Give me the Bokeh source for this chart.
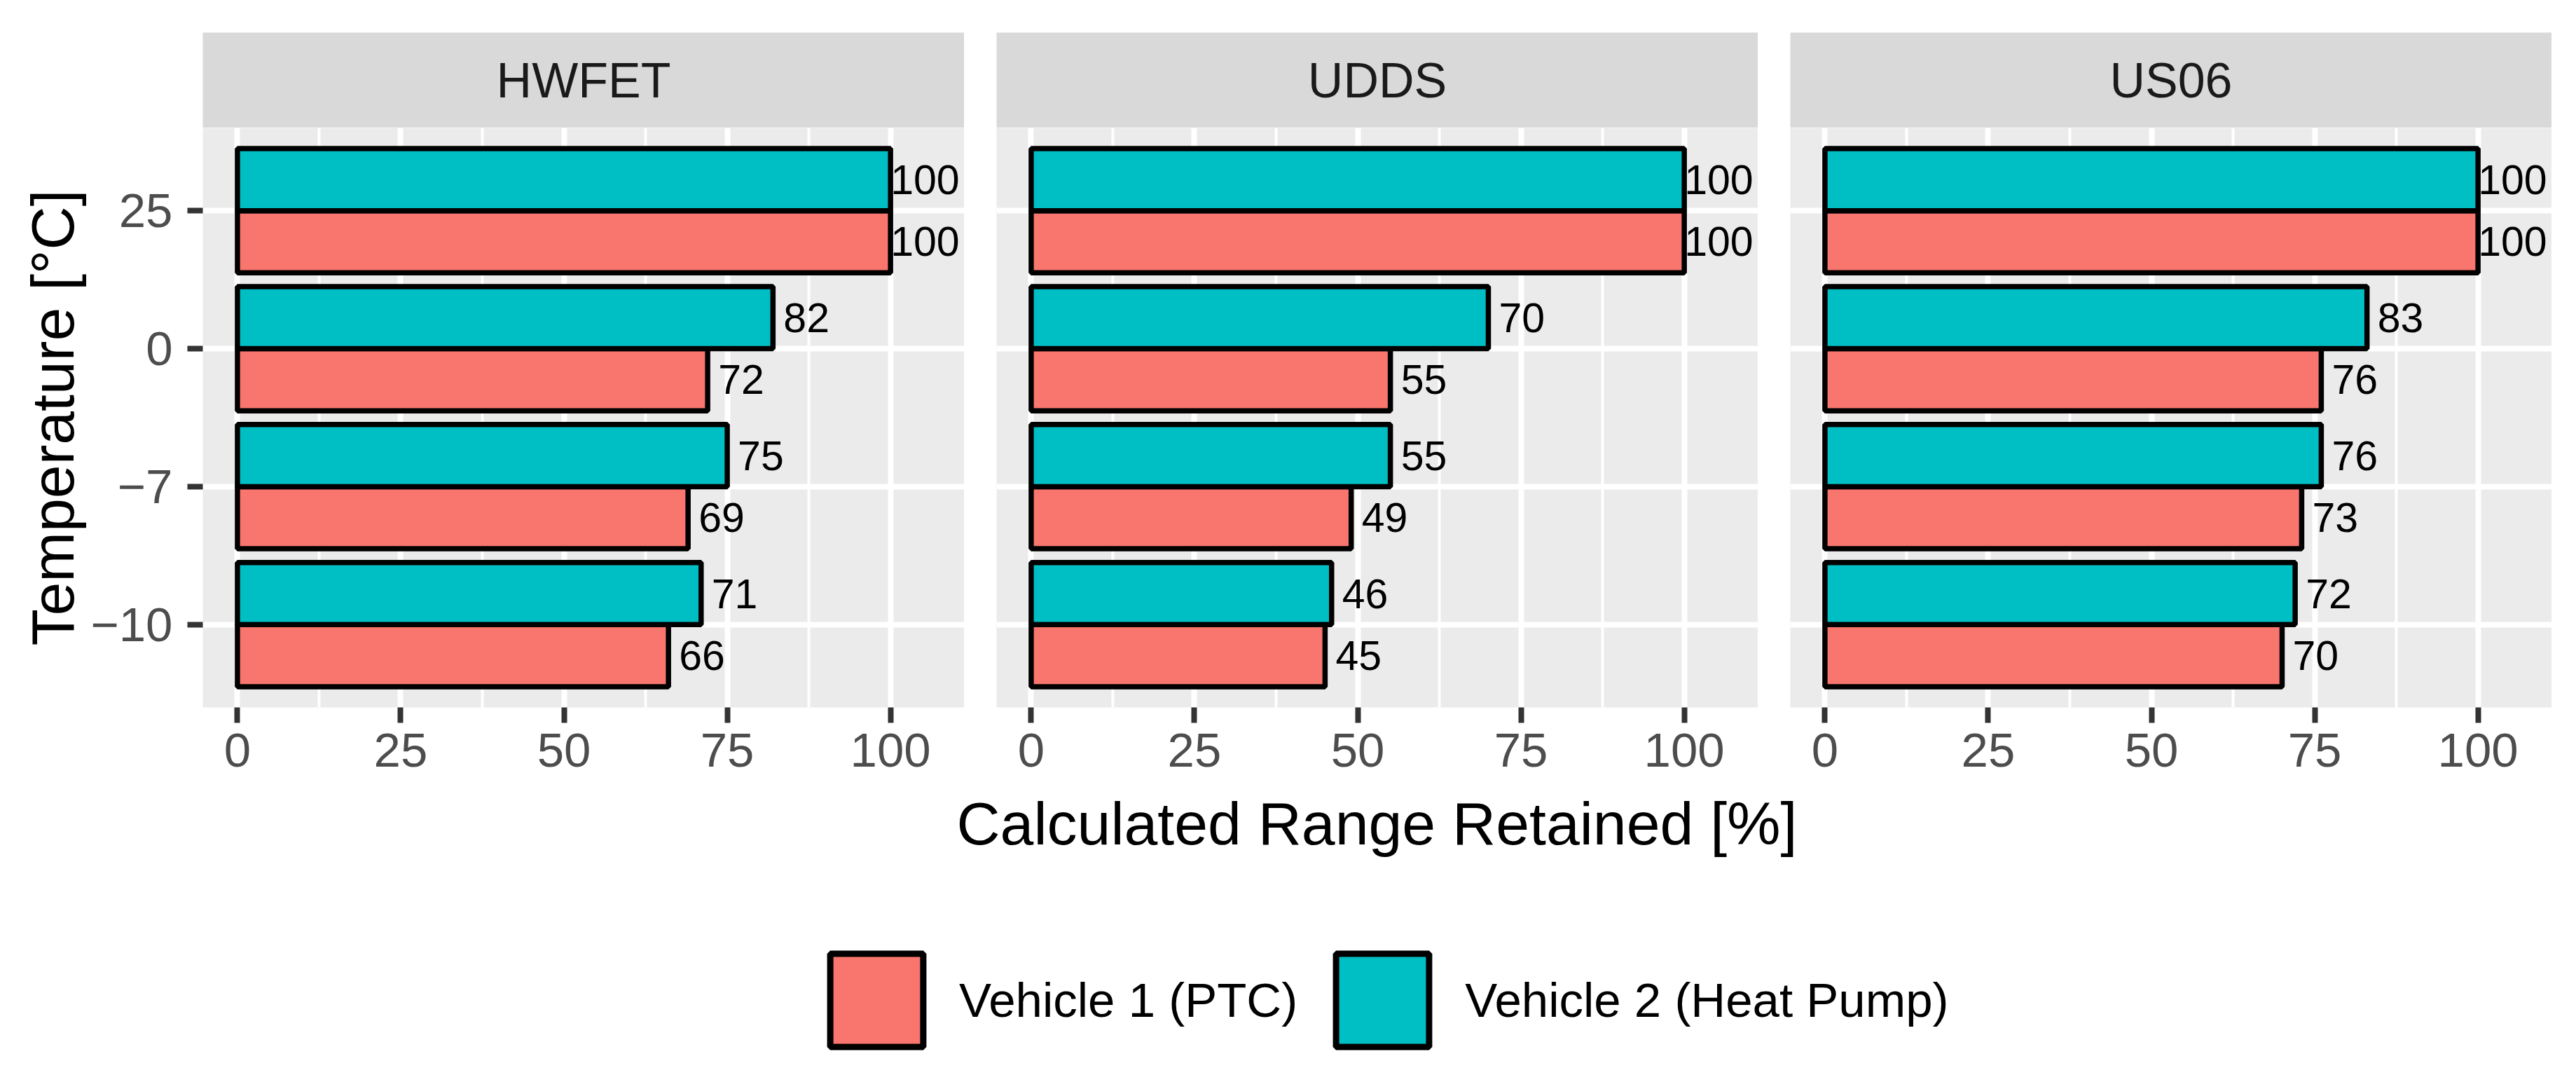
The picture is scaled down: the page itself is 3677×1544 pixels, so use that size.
from bokeh.plotting import figure
from bokeh.models import Range1d, FactorRange, FixedTicker, ColumnDataSource, Legend, LegendItem
from bokeh.layouts import column, row
from bokeh.transform import dodge
from bokeh.embed import file_html
from bokeh.resources import INLINE
from bokeh.core.properties import value

# ---------------- data ----------------
cycles = ["HWFET", "UDDS", "US06"]
temperatures = ["\u221210", "\u22127", "0", "25"]          # bottom -> top
series_names = ["Vehicle 1 (PTC)", "Vehicle 2 (Heat Pump)"]

hwfet_vehicle1 = [66, 69, 72, 100]
hwfet_vehicle2 = [71, 75, 82, 100]
udds_vehicle1 = [45, 49, 55, 100]
udds_vehicle2 = [46, 55, 70, 100]
us06_vehicle1 = [70, 73, 76, 100]
us06_vehicle2 = [72, 76, 83, 100]

x_ticks = [0, 25, 50, 75, 100]
x_minor_ticks = [12.5, 37.5, 62.5, 87.5]
x_title = "Calculated Range Retained [%]"
y_title = "Temperature [\u00b0C]"

# ---------------- style ----------------
FONT = "Liberation Sans"
C1 = "#F8766D"
C2 = "#00BFC4"
PANEL_BG = "#EBEBEB"
STRIP_BG = "#D9D9D9"
X_LO, X_HI = -5.3, 111.3
FRAME_W, FRAME_H = 1087, 827
STRIP_H = 136
STRIP_TOP = 46
LEFT0 = 289
GAP = 46
BOTTOM = 114
TICK_FS = "69px"
TITLE_FS = "86px"


def label_offsets(vals):
    return [0 if v >= 100 else 15 for v in vals]


def make_strip(i, name):
    s = figure(x_range=Range1d(0, 1), y_range=Range1d(0, 1),
               frame_width=FRAME_W, frame_height=STRIP_H,
               min_border_left=LEFT0 if i == 0 else GAP, min_border_right=0,
               min_border_top=STRIP_TOP, min_border_bottom=0,
               x_axis_location=None, y_axis_location=None,
               background_fill_color=STRIP_BG, border_fill_color="white",
               outline_line_color=None, toolbar_location=None, output_backend="svg")
    s.grid.visible = False
    s.text(x=[0.5], y=[0.5], text=[name], text_align="center", text_baseline="middle",
           text_font=value(FONT), text_font_size="70px", text_color="#1A1A1A")
    return s


def make_panel(i, v1, v2):
    yr = FactorRange(factors=temperatures, range_padding=0.1, range_padding_units="absolute")
    p = figure(x_range=Range1d(X_LO, X_HI), y_range=yr,
               frame_width=FRAME_W, frame_height=FRAME_H,
               min_border_left=LEFT0 if i == 0 else GAP, min_border_right=0,
               min_border_top=0, min_border_bottom=BOTTOM,
               y_axis_location="left" if i == 0 else None,
               background_fill_color=PANEL_BG, border_fill_color="white",
               outline_line_color=None, toolbar_location=None, output_backend="svg")

    src = ColumnDataSource(dict(temp=temperatures, v1=v1, v2=v2,
                                lab1=[str(v) for v in v1], lab2=[str(v) for v in v2],
                                off1=label_offsets(v1), off2=label_offsets(v2)))

    # x axis
    p.xaxis.ticker = FixedTicker(ticks=x_ticks, minor_ticks=x_minor_ticks)
    p.xaxis.axis_line_color = None
    p.xaxis.major_tick_in = 0
    p.xaxis.major_tick_out = 22
    p.xaxis.major_tick_line_width = 8
    p.xaxis.major_tick_line_color = "#333333"
    p.xaxis.minor_tick_line_color = None
    p.xaxis.major_label_text_font = FONT
    p.xaxis.major_label_text_font_size = TICK_FS
    p.xaxis.major_label_text_color = "#4D4D4D"
    p.xaxis.major_label_standoff = 15

    if i == 0:
        p.yaxis.axis_line_color = None
        p.yaxis.major_tick_in = 0
        p.yaxis.major_tick_out = 22
        p.yaxis.major_tick_line_width = 8
        p.yaxis.major_tick_line_color = "#333333"
        p.yaxis.major_label_text_font = FONT
        p.yaxis.major_label_text_font_size = TICK_FS
        p.yaxis.major_label_text_color = "#4D4D4D"
        p.yaxis.major_label_standoff = 21
        p.yaxis.axis_label = y_title
        p.yaxis.axis_label_text_font = FONT
        p.yaxis.axis_label_text_font_size = TITLE_FS
        p.yaxis.axis_label_text_font_style = "normal"
        p.yaxis.axis_label_text_color = "black"
        p.yaxis.axis_label_standoff = 3

    # grid
    p.xgrid.grid_line_color = "white"
    p.xgrid.grid_line_width = 8
    p.xgrid.minor_grid_line_color = "white"
    p.xgrid.minor_grid_line_width = 4
    p.ygrid.grid_line_color = "white"
    p.ygrid.grid_line_width = 8

    # bars
    p.hbar(y=dodge("temp", -0.225, range=p.y_range), left=0, right="v1", height=0.45,
           source=src, fill_color=C1, line_color="black", line_width=7.5)
    p.hbar(y=dodge("temp", 0.225, range=p.y_range), left=0, right="v2", height=0.45,
           source=src, fill_color=C2, line_color="black", line_width=7.5)

    # value labels
    p.text(x="v1", y=dodge("temp", -0.225, range=p.y_range), text="lab1", x_offset="off1",
           source=src, text_align="left", text_baseline="middle",
           text_font=value(FONT), text_font_size="59px", text_color="black")
    p.text(x="v2", y=dodge("temp", 0.225, range=p.y_range), text="lab2", x_offset="off2",
           source=src, text_align="left", text_baseline="middle",
           text_font=value(FONT), text_font_size="59px", text_color="black")
    return p


strips = [make_strip(i, c) for i, c in enumerate(cycles)]
panels = [
    make_panel(0, hwfet_vehicle1, hwfet_vehicle2),
    make_panel(1, udds_vehicle1, udds_vehicle2),
    make_panel(2, us06_vehicle1, us06_vehicle2),
]

# bottom figure: shared x-axis title + legend (coordinates in screen pixels)
LEG_W, LEG_H = 3640, 406
lf = figure(x_range=Range1d(0, LEG_W), y_range=Range1d(0, LEG_H),
            frame_width=LEG_W, frame_height=LEG_H, min_border=0,
            x_axis_location=None, y_axis_location=None,
            background_fill_color="white", border_fill_color="white",
            outline_line_color=None, toolbar_location=None, output_backend="svg")
lf.grid.visible = False
lf.text(x=[1965], y=[LEG_H - 51], text=[x_title], text_align="center", text_baseline="middle",
        text_font=value(FONT), text_font_size=TITLE_FS, text_color="black")

# swatch renderers for the legend (no drawable data, only used for the legend keys)
nan = float("nan")
sw1 = ColumnDataSource(dict(y=[nan], l=[nan], r=[nan]))
sw2 = ColumnDataSource(dict(y=[nan], l=[nan], r=[nan]))
lr1 = lf.hbar(y="y", left="l", right="r", height=1, source=sw1,
              fill_color=C1, line_color="black", line_width=9)
lr2 = lf.hbar(y="y", left="l", right="r", height=1, source=sw2,
              fill_color=C2, line_color="black", line_width=9)
legend = Legend(items=[LegendItem(label=value(series_names[0]), renderers=[lr1]),
                       LegendItem(label=value(series_names[1]), renderers=[lr2])],
                orientation="horizontal", location=(1168, 19),
                glyph_width=166, glyph_height=166, label_standoff=35, spacing=38,
                padding=0, margin=0, border_line_color=None, background_fill_alpha=0,
                label_text_font=FONT, label_text_font_size="69px", label_text_color="black")
lf.add_layout(legend, "center")

layout = column(row(*strips), row(*panels), lf)

open("out.html", "w").write(file_html(layout, INLINE))
